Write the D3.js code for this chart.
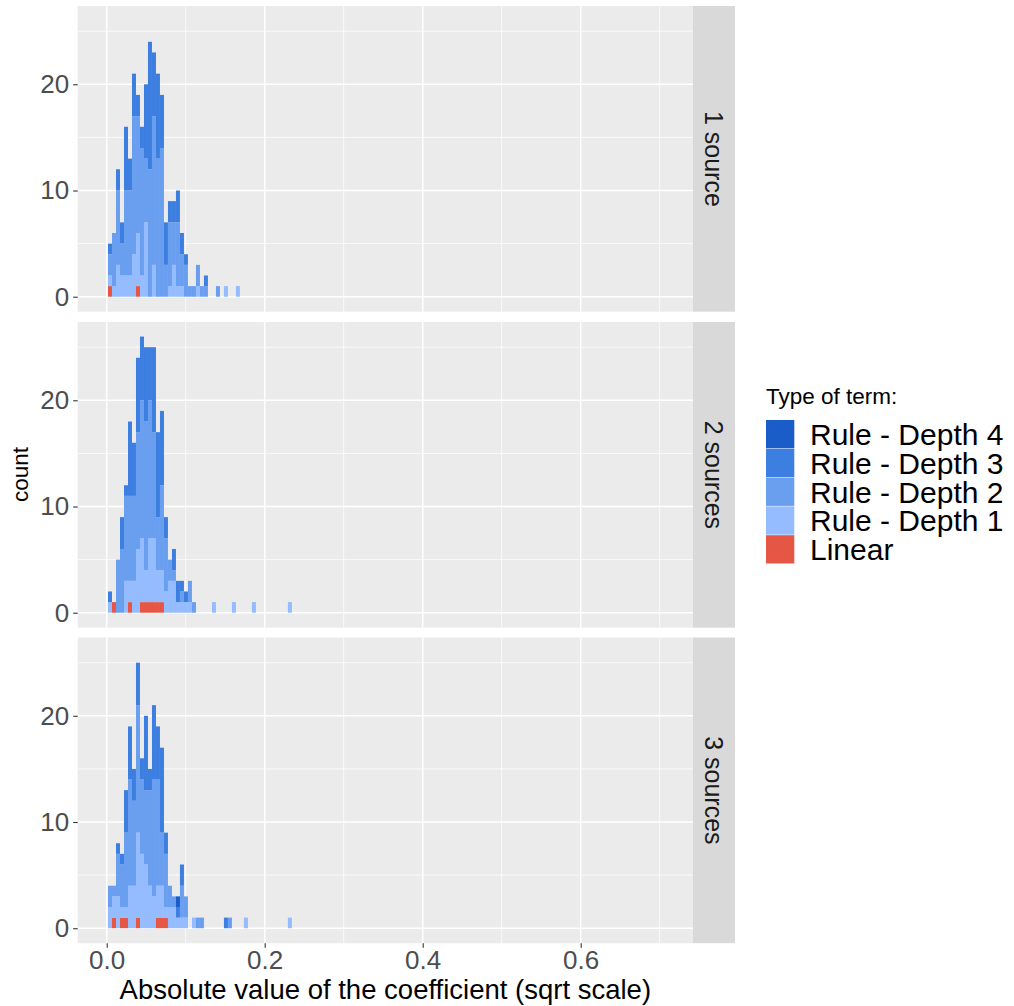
<!DOCTYPE html>
<html>
<head>
<meta charset="utf-8">
<script src="https://cdn.jsdelivr.net/npm/d3@7"></script>
<style>
  body { margin: 0; background: #fff; }
  text { font-family: "Liberation Sans", Arial, sans-serif; }
</style>
</head>
<body>
<svg id="chart" width="1014" height="1006"></svg>
<script>
// facets, term types and histogram bins
const facets = ["1 source", "2 sources", "3 sources"];
const termTypes = ["Rule - Depth 4", "Rule - Depth 3", "Rule - Depth 2", "Rule - Depth 1", "Linear"];
const termColors = ["#1a5cc8", "#3d7fe0", "#6a9ff0", "#94bcff", "#e55645"];
const binStart = 0.00165;
const binWidth = 0.00506;
const nBins = 46;
const xTicks = [0, 0.2, 0.4, 0.6];
const xMinor = [0.1, 0.3, 0.5, 0.7];
const yTicks = [0, 10, 20];
const yMinor = [5, 15, 25];

// counts per bin (index = bin number, missing = 0)
// 1 source
const linear1 = [1, 0, 0, 0, 0, 0, 0, 1];
const depth1_1 = [1, 1, 3, 2, 2, 2, 4, 5, 2, 7, 0, 3, 0, 0, 0, 1, 3, 1, 1, 0, 0, 0, 1, 0, 0, 0, 0, 0, 0, 1, 0, 0, 1];
const depth2_1 = [2, 5, 7, 3, 8, 8, 13, 11, 12, 6, 12, 14, 13, 14, 3, 6, 4, 6, 3, 3, 1, 1, 2, 1, 1, 0, 0, 1];
const depth3_1 = [1, 0, 2, 2, 6, 3, 4, 2, 2, 7, 12, 6, 8, 5, 4, 2, 2, 3, 2, 1, 0, 0, 0, 0, 1];
const depth4_1 = [];
// 2 sources
const linear2 = [0, 1, 0, 0, 0, 1, 0, 0, 1, 1, 1, 1, 1, 1];
const depth1_2 = [1, 0, 0, 0, 3, 2, 3, 6, 6, 3, 6, 6, 3, 3, 2, 3, 3, 1, 1, 1, 1, 0, 0, 0, 0, 0, 1, 0, 0, 0, 0, 1, 0, 0, 0, 0, 1, 0, 0, 0, 0, 0, 0, 0, 0, 1];
const depth2_2 = [0, 0, 5, 6, 8, 8, 8, 11, 13, 14, 13, 10, 5, 8, 5, 2, 1, 0, 1, 0, 2, 1];
const depth3_2 = [1, 0, 0, 3, 1, 7, 5, 7, 6, 7, 5, 8, 8, 7, 2, 0, 2, 2, 1, 1];
const depth4_2 = [];
// 3 sources
const linear3 = [0, 1, 0, 1, 1, 0, 0, 1, 0, 0, 0, 0, 1, 1, 1];
const depth1_3 = [2, 2, 3, 1, 1, 4, 4, 8, 7, 6, 4, 3, 3, 3, 1, 2, 2, 1, 1, 1, 0, 1, 0, 0, 0, 0, 0, 0, 0, 0, 0, 0, 0, 0, 1, 0, 0, 0, 0, 0, 0, 0, 0, 0, 0, 1];
const depth2_3 = [2, 1, 4, 4, 7, 10, 8, 12, 7, 7, 9, 11, 10, 5, 5, 2, 1, 0, 3, 2, 0, 0, 1, 1, 0, 0, 0, 0, 0, 0, 1];
const depth3_3 = [0, 0, 1, 1, 4, 5, 3, 4, 2, 7, 2, 7, 5, 8, 2, 0, 0, 1, 2, 0, 0, 0, 0, 0, 0, 0, 0, 0, 0, 1];
const depth4_3 = [0, 0, 0, 0, 0, 0, 0, 0, 0, 0, 0, 0, 0, 0, 0, 0, 0, 1];

const facetCounts = [
  { "Linear": linear1, "Rule - Depth 1": depth1_1, "Rule - Depth 2": depth2_1, "Rule - Depth 3": depth3_1, "Rule - Depth 4": depth4_1 },
  { "Linear": linear2, "Rule - Depth 1": depth1_2, "Rule - Depth 2": depth2_2, "Rule - Depth 3": depth3_2, "Rule - Depth 4": depth4_2 },
  { "Linear": linear3, "Rule - Depth 1": depth1_3, "Rule - Depth 2": depth2_3, "Rule - Depth 3": depth3_3, "Rule - Depth 4": depth4_3 },
];

// layout
const svg = d3.select("#chart");
const panelLeft = 77.7, panelRight = 693;
const panelTops = [6, 322, 637.5];
const panelHeight = 305.7;
const stripWidth = 42;

const color = d3.scaleOrdinal().domain(termTypes).range(termColors);
const x = d3.scaleLinear().domain([-0.03671, 0.74215]).range([panelLeft, panelRight]);

// stacked bottom to top: Linear first, Depth 4 last
const stackKeys = termTypes.slice().reverse();
const stack = d3.stack().keys(stackKeys);

facets.forEach((facet, fi) => {
  const top = panelTops[fi];
  const y = d3.scaleLinear().domain([-1.41, 27.37]).range([top + panelHeight, top]);
  const g = svg.append("g").attr("class", "panel");

  g.append("rect")
    .attr("x", panelLeft).attr("y", top)
    .attr("width", panelRight - panelLeft).attr("height", panelHeight)
    .attr("fill", "#ebebeb");

  // minor grid
  g.selectAll(".xminor").data(xMinor).join("line")
    .attr("x1", d => x(d)).attr("x2", d => x(d))
    .attr("y1", top).attr("y2", top + panelHeight)
    .attr("stroke", "#fff").attr("stroke-width", 0.75);
  g.selectAll(".yminor").data(yMinor).join("line")
    .attr("x1", panelLeft).attr("x2", panelRight)
    .attr("y1", d => y(d)).attr("y2", d => y(d))
    .attr("stroke", "#fff").attr("stroke-width", 0.75);
  // major grid
  g.selectAll(".xmajor").data(xTicks).join("line")
    .attr("x1", d => x(d)).attr("x2", d => x(d))
    .attr("y1", top).attr("y2", top + panelHeight)
    .attr("stroke", "#fff").attr("stroke-width", 1.5);
  g.selectAll(".ymajor").data(yTicks).join("line")
    .attr("x1", panelLeft).attr("x2", panelRight)
    .attr("y1", d => y(d)).attr("y2", d => y(d))
    .attr("stroke", "#fff").attr("stroke-width", 1.5);

  // histogram rows
  const counts = facetCounts[fi];
  const rows = d3.range(nBins).map(i => {
    const row = { x0: binStart + i * binWidth, x1: binStart + (i + 1) * binWidth };
    stackKeys.forEach(k => { row[k] = counts[k][i] || 0; });
    return row;
  });
  const series = stack(rows);

  g.selectAll(".layer").data(series).join("g")
    .attr("fill", s => color(s.key))
    .selectAll("rect")
    .data(s => s.filter(d => d[1] > d[0]))
    .join("rect")
    .attr("x", d => x(d.data.x0))
    .attr("width", d => x(d.data.x1) - x(d.data.x0))
    .attr("y", d => y(d[1]))
    .attr("height", d => y(d[0]) - y(d[1]));

  // y axis
  const yAxis = g.append("g").attr("transform", `translate(${panelLeft},0)`)
    .call(d3.axisLeft(y).tickValues(yTicks).tickSize(4.5).tickPadding(4));
  yAxis.select(".domain").remove();
  yAxis.selectAll("line").attr("stroke", "#333").attr("stroke-width", 1.1);
  yAxis.selectAll("text").attr("fill", "#4d4d4d").style("font-size", "26px")
    .style("font-family", '"Liberation Sans", Arial, sans-serif');

  // strip
  g.append("rect")
    .attr("x", panelRight).attr("y", top)
    .attr("width", stripWidth).attr("height", panelHeight)
    .attr("fill", "#d9d9d9");
  g.append("text")
    .attr("transform", `translate(${panelRight + stripWidth / 2},${top + panelHeight / 2}) rotate(90)`)
    .attr("text-anchor", "middle").attr("dy", "0.35em")
    .attr("fill", "#1a1a1a").style("font-size", "25px")
    .text(facet);

  // x axis only under the last panel
  if (fi === facets.length - 1) {
    const xAxis = g.append("g").attr("transform", `translate(0,${top + panelHeight})`)
      .call(d3.axisBottom(x).tickValues(xTicks).tickFormat(d3.format(".1f")).tickSize(4.5).tickPadding(3));
    xAxis.select(".domain").remove();
    xAxis.selectAll("line").attr("stroke", "#333").attr("stroke-width", 1.1);
    xAxis.selectAll("text").attr("fill", "#4d4d4d").style("font-size", "26px")
      .style("font-family", '"Liberation Sans", Arial, sans-serif');
  }
});

// axis titles
svg.append("text")
  .attr("x", (panelLeft + panelRight) / 2).attr("y", 999)
  .attr("text-anchor", "middle").attr("fill", "#000")
  .style("font-size", "27.5px")
  .text("Absolute value of the coefficient (sqrt scale)");

svg.append("text")
  .attr("transform", `translate(28,${(panelTops[0] + panelTops[2] + panelHeight) / 2}) rotate(-90)`)
  .attr("text-anchor", "middle").attr("fill", "#000")
  .style("font-size", "22.5px")
  .text("count");

// legend
const legend = svg.append("g").attr("transform", "translate(766,0)");
legend.append("text")
  .attr("x", 0).attr("y", 404)
  .style("font-size", "22.5px").attr("fill", "#000")
  .text("Type of term:");
const keyStep = 28.8, keyTop = 420;
const items = legend.selectAll(".item").data(termTypes).join("g")
  .attr("transform", (d, i) => `translate(0,${keyTop + i * keyStep})`);
items.append("rect")
  .attr("width", 28.3).attr("height", 28.3)
  .attr("fill", d => color(d));
items.append("text")
  .attr("x", 44).attr("y", 14.2).attr("dy", "0.36em")
  .style("font-size", "30px").attr("fill", "#000")
  .text(d => d);
</script>
</body>
</html>
